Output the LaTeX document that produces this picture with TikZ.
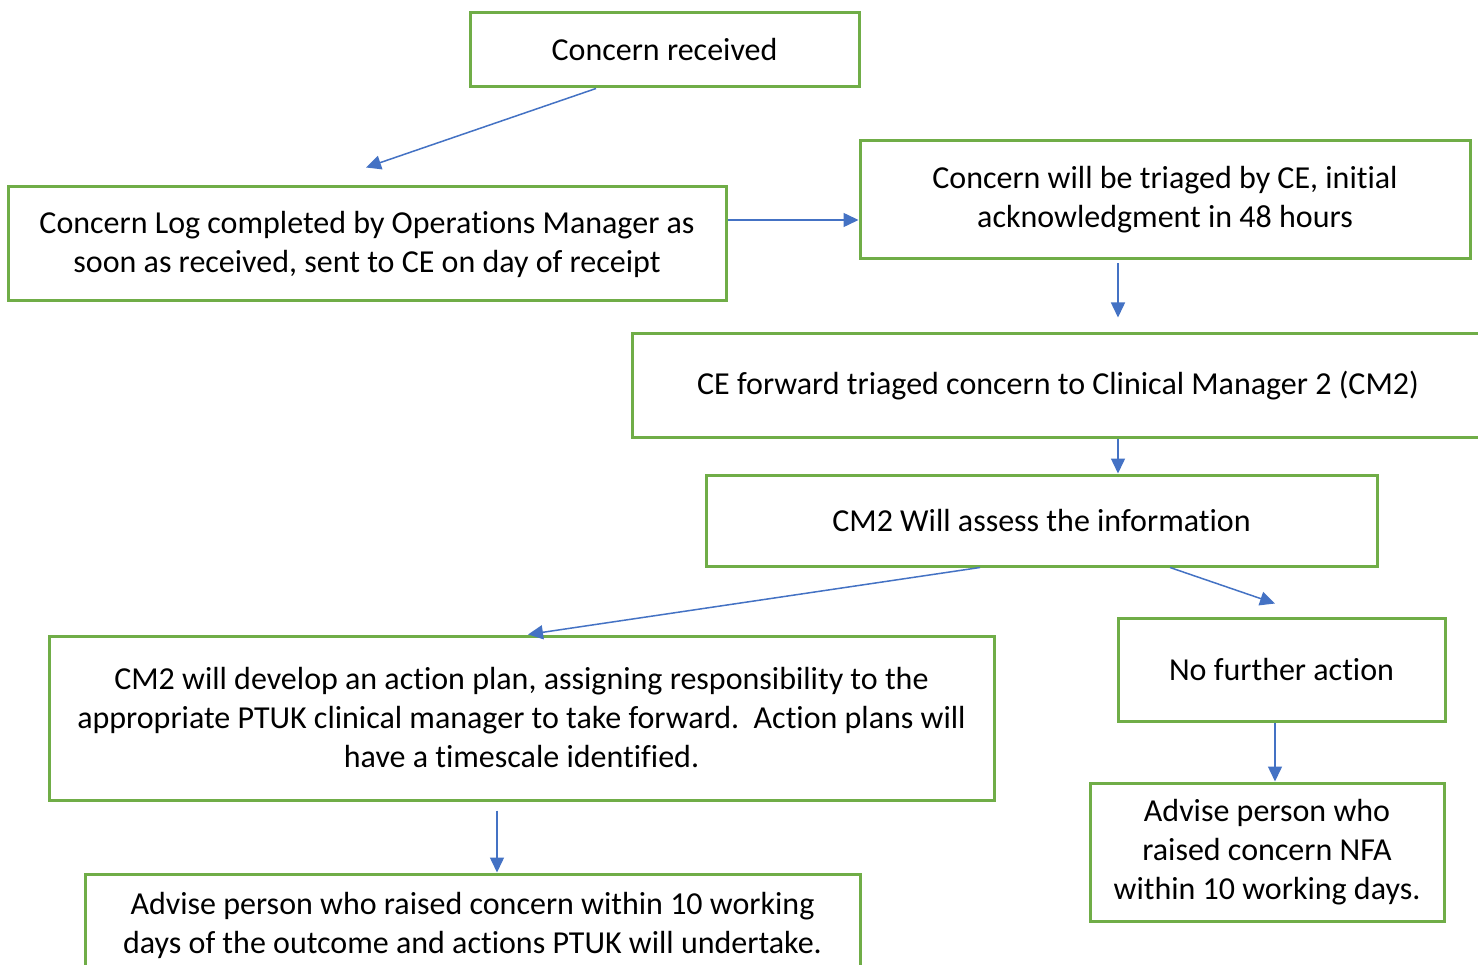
\documentclass[tikz,border=0pt]{standalone}
\usepackage{fontspec}
\setmainfont{Carlito}[Ligatures=CommonOff]
\usetikzlibrary{arrows.meta}

\definecolor{boxgreen}{HTML}{70AD47}
\definecolor{arrowblue}{HTML}{4472C4}

\begin{document}
\begin{tikzpicture}[
			x=1pt, y=-1pt,
			box/.style = {draw=boxgreen, line width=3pt, align=center, inner sep=0pt,
				font=\fontsize{32}{39}\selectfont},
			arr/.style = {draw=arrowblue, line width=1.5pt,
				-{Triangle[length=15pt, width=14pt]}}
		]
		\useasboundingbox[fill=white] (0,0) rectangle (1478,965);
		% Top row.
		\node[box, minimum width=389pt, minimum height=74pt] (recv) at (664.5,50) {Concern received};
		\node[box, minimum width=718pt, minimum height=114pt] (log) at (367,244)
			{Concern Log completed by Operations Manager as\\soon as received, sent to CE on day of receipt};
		\node[box, minimum width=610pt, minimum height=118pt] (triage) at (1165,200)
			{Concern will be triaged by CE, initial\\acknowledgment in 48 hours};
		% Middle.
		\node[box, minimum width=852pt, minimum height=103pt] (fwd) at (1058,385.5)
			{CE forward triaged concern to Clinical Manager 2 (CM2)};
		\node[box, minimum width=671pt, minimum height=91pt] (assess) at (1041.5,520.5)
			{CM2 Will assess the information};
		% Left branch.
		\node[box, minimum width=945pt, minimum height=164pt] (action) at (521.5,718)
			{CM2 will develop an action plan, assigning responsibility to the\\appropriate PTUK clinical manager to take forward.\ \ Action plans will\\have a timescale identified.};
		\node[box, minimum width=775pt, minimum height=102pt] (advise) at (472.5,925)
			{Advise person who raised concern within 10 working\\days of the outcome and actions PTUK will undertake.};
		% Right branch.
		\node[box, minimum width=327pt, minimum height=103pt] (nfa) at (1281.5,669.5) {No further action};
		\node[box, minimum width=354pt, minimum height=138pt] (advnfa) at (1267,852)
			{Advise person who\\raised concern NFA\\within 10 working days.};

		% Free arrow ends.
		\coordinate (log-top) at ([xshift=-1pt, yshift=18pt]log.north);
		\coordinate (triage-out) at ([xshift=-47pt, yshift=-3pt]triage.south);
		\coordinate (fwd-top) at ([xshift=60pt, yshift=15pt]fwd.north);
		\coordinate (fwd-out) at ([xshift=60pt]fwd.south);
		\coordinate (nfa-top) at ([xshift=-6.5pt, yshift=13pt]nfa.north);
		\coordinate (action-out) at ([xshift=-24.5pt, yshift=-9pt]action.south);

		\draw[arr] ([xshift=-68.5pt]recv.south) -- (log-top);
		\draw[arr] ([yshift=24pt]log.east) -- ([yshift=-20pt]triage.west);
		\draw[arr] (triage-out) -- (fwd-top);
		\draw[arr] (fwd-out) -- (fwd-out |- assess.north);
		\draw[arr] ([xshift=-61.5pt]assess.south) -- ([xshift=6.5pt]action.north);
		\draw[arr] ([xshift=128.5pt]assess.south) -- (nfa-top);
		\draw[arr] ([xshift=-6.5pt]nfa.south) -- ([xshift=8pt]advnfa.north);
		\draw[arr] (action-out) -- (action-out |- advise.north);
	\end{tikzpicture}
\end{document}
